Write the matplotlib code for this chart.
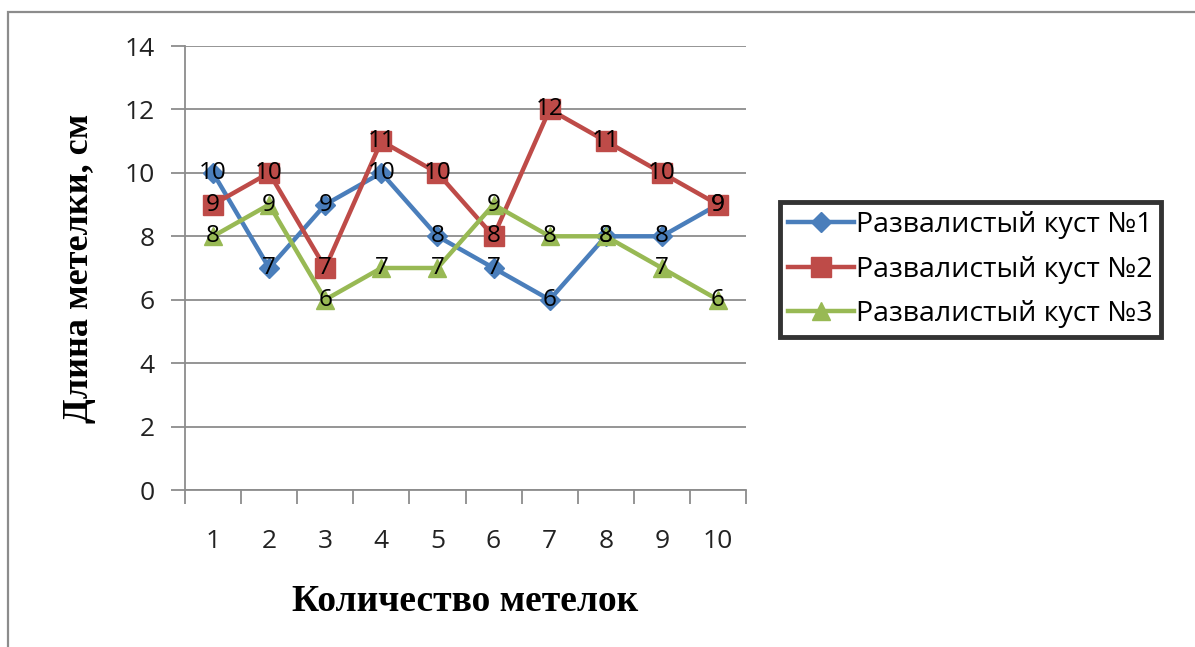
import matplotlib
matplotlib.use("Agg")
import matplotlib.pyplot as plt
from matplotlib.patches import Rectangle

# Panicle lengths for three spreading bushes
panicles = [1, 2, 3, 4, 5, 6, 7, 8, 9, 10]
bush1 = [10, 7, 9, 10, 8, 7, 6, 8, 8, 9]
bush2 = [9, 10, 7, 11, 10, 8, 12, 11, 10, 9]
bush3 = [8, 9, 6, 7, 7, 9, 8, 8, 7, 6]
series_names = ["Развалистый куст №1", "Развалистый куст №2", "Развалистый куст №3"]
y_ticks = [0, 2, 4, 6, 8, 10, 12, 14]

colors = ["#4A7EBB", "#BE4B48", "#98B954"]
markers = ["D", "s", "^"]
marker_sizes = [10.5, 14, 13]

W, H = 1195, 647
fig = plt.figure(figsize=(W / 100, H / 100), dpi=100)
fig.patch.set_facecolor("white")

# chart-area frame
fig.add_artist(Rectangle((8 / W, -0.1), 1.2, 1 - 12 / H + 0.1, transform=fig.transFigure,
                         fill=False, edgecolor="#8c8c8c", linewidth=1.6))

ax = fig.add_axes([185 / W, 1 - 490 / H, (746 - 185) / W, (490 - 46) / H])
ax.set_xlim(0.5, 10.5)
ax.set_ylim(0, 14)

for s in ["top", "right"]:
    ax.spines[s].set_visible(False)
for s in ["left", "bottom"]:
    ax.spines[s].set_color("#8c8c8c")
    ax.spines[s].set_linewidth(1.3)

ax.set_yticks(y_ticks)
ax.yaxis.grid(True, color="#8c8c8c", linewidth=1.3)
ax.set_axisbelow(True)
ax.tick_params(axis="y", length=10, width=1.3, color="#8c8c8c", pad=12,
               labelsize=19, labelcolor="#222222")
ax.set_xticks(panicles)
ax.set_xticks([p + 0.5 for p in [0] + panicles], minor=True)
ax.tick_params(axis="x", which="major", length=0, pad=28, labelsize=19, labelcolor="#222222")
ax.tick_params(axis="x", which="minor", length=10, width=1.3, color="#8c8c8c")
for lab in ax.get_xticklabels() + ax.get_yticklabels():
    lab.set_fontfamily("Open Sans")

for vals, name, c, m, ms in zip([bush1, bush2, bush3], series_names, colors, markers, marker_sizes):
    ax.plot(panicles, vals, color=c, linewidth=3.2, marker=m, markersize=ms,
            markeredgecolor=c, label=name, clip_on=False, zorder=3)
    for x, v in zip(panicles, vals):
        ax.text(x, v, str(v), ha="center", va="center", fontsize=17.5,
                fontfamily="Open Sans", color="black", zorder=5)

ax.set_ylabel("Длина метелки, см", fontfamily="Liberation Serif", fontweight="bold",
              fontsize=26, labelpad=20)
ax.set_xlabel("Количество метелок", fontfamily="Liberation Serif", fontweight="bold",
              fontsize=27, labelpad=22)

handles, labels = ax.get_legend_handles_labels()
leg = fig.legend(handles, labels, loc="center",
                 bbox_to_anchor=((779 + 1186) / 2 / W - 12 / W, 1 - (203 + 336) / 2 / H),
                 frameon=True, fancybox=False, edgecolor="black", handlelength=2.3,
                 handletextpad=0.1, labelspacing=0.58, borderpad=0.3,
                 prop={"family": "Open Sans", "size": 20.5})
leg.get_frame().set_linewidth(3.5)

fig.savefig("out.png", dpi=100)
